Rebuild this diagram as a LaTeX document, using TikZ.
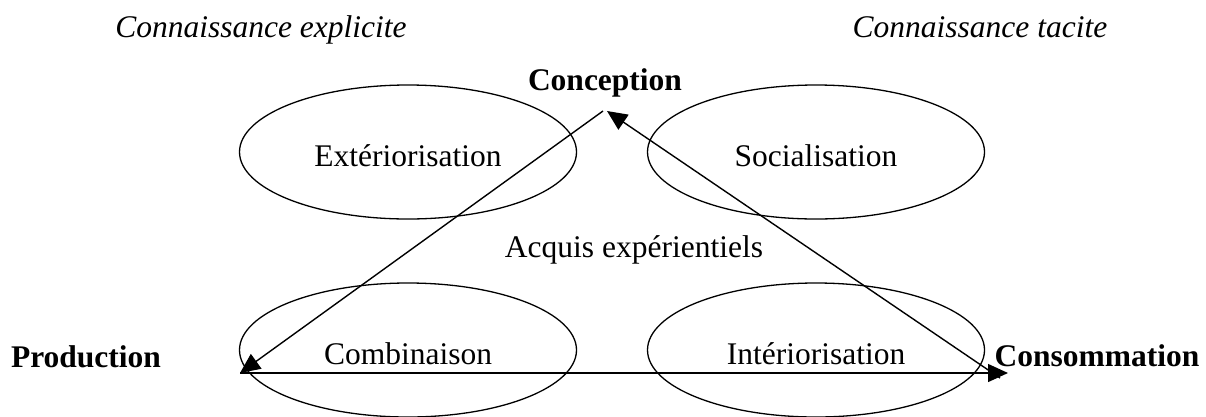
\documentclass[tikz,border=0pt]{standalone}
\usepackage{fontspec}
\setmainfont{Liberation Serif}
\usetikzlibrary{positioning,arrows.meta,shapes.geometric}

\begin{document}
\begin{tikzpicture}[
  x=1pt, y=-1pt,
  every node/.style={font=\fontsize{31.5}{38}\selectfont, inner sep=0pt},
  mode/.style={draw, ellipse, line width=1.3pt, minimum width=337pt, minimum height=134pt, text height=28pt, text depth=0pt},
  pole/.style={font=\fontsize{31.5}{38}\selectfont\bfseries, anchor=base},
  kind/.style={font=\fontsize{31.5}{38}\selectfont\itshape, anchor=base},
  flow/.style={-{Triangle[length=20pt,width=18pt]}, line width=1.4pt}
]
\useasboundingbox (0,0) rectangle (1206,416);
\node[kind] (explicit) at (261,37) {Connaissance explicite};
\node[kind] (tacit) at (980,37) {Connaissance tacite};
\node[mode] (ext) at (408,152) {Extériorisation};
\node[mode] (soc) at (816,152) {Socialisation};
\node[mode] (comb) at (408,350) {Combinaison};
\node[mode] (inter) at (816,350) {Intériorisation};
\node[anchor=base] (acquis) at (634,257) {Acquis expérientiels};
\node[pole] (conc) at (605,90) {Conception};
\node[pole] (prod) at (86,367) {Production};
\node[pole] (cons) at (1097,366) {Consommation};
\coordinate (concpt) at (603,111);
\coordinate (prodpt) at (240,373);
\coordinate (conspt) at (1008,373);
\draw[flow] (concpt) -- (prodpt);
\draw[flow] ([xshift=-8pt,yshift=-5pt]conspt) -- ([xshift=4pt]concpt);
\draw[flow] (prodpt) -- (conspt);
\end{tikzpicture}
\end{document}
